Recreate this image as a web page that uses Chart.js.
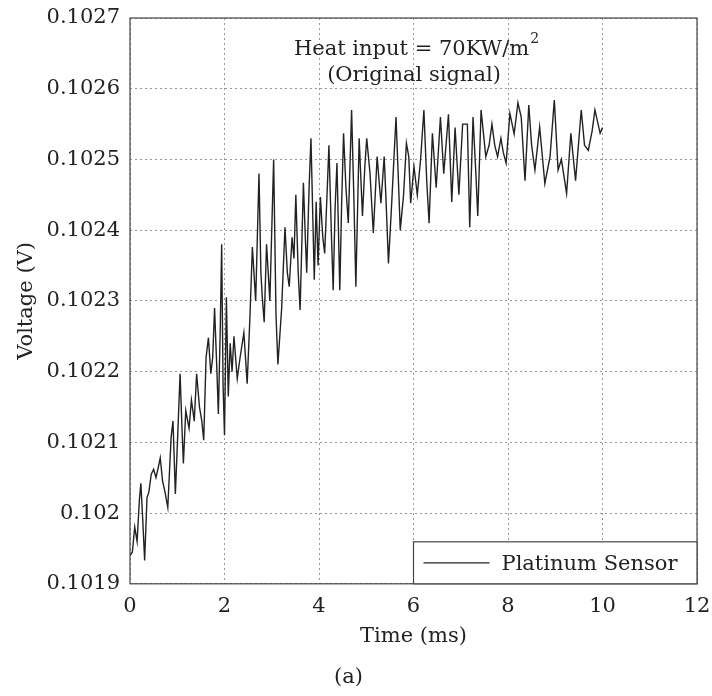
<!DOCTYPE html>
<html>
<head>
<meta charset="utf-8">
<script src="https://cdn.jsdelivr.net/npm/chart.js@4"></script>
<style>
  html, body { margin: 0; padding: 0; background: #fff; }
  #wrap { width: 712px; height: 696px; }
</style>
</head>
<body>
<div id="wrap"><canvas id="chart" width="712" height="696"></canvas></div>
<script>
// Time (ms) and sensor voltage (V)
const timeMs = [
  0.00, 0.05, 0.10, 0.15, 0.20, 0.23, 0.27, 0.31, 0.36, 0.40,
  0.45, 0.50, 0.55, 0.60, 0.64, 0.69, 0.74, 0.80, 0.87, 0.91,
  0.96, 1.01, 1.06, 1.10, 1.13, 1.18, 1.25, 1.30, 1.36, 1.41,
  1.47, 1.52, 1.56, 1.61, 1.66, 1.71, 1.75, 1.79, 1.84, 1.87,
  1.91, 1.94, 1.97, 2.00, 2.04, 2.08, 2.12, 2.16, 2.20, 2.27,
  2.33, 2.41, 2.48, 2.54, 2.59, 2.66, 2.73, 2.77, 2.80, 2.84,
  2.89, 2.96, 3.04, 3.09, 3.13, 3.21, 3.28, 3.33, 3.37, 3.43,
  3.47, 3.51, 3.56, 3.60, 3.67, 3.71, 3.74, 3.79, 3.83, 3.90,
  3.94, 3.98, 4.03, 4.08, 4.12, 4.17, 4.21, 4.26, 4.30, 4.34,
  4.38, 4.44, 4.48, 4.52, 4.57, 4.62, 4.69, 4.74, 4.78, 4.85,
  4.92, 4.97, 5.01, 5.08, 5.15, 5.23, 5.31, 5.38, 5.42, 5.47,
  5.54, 5.63, 5.72, 5.79, 5.85, 5.90, 5.94, 6.01, 6.08, 6.15,
  6.22, 6.28, 6.33, 6.40, 6.48, 6.57, 6.64, 6.74, 6.81, 6.88,
  6.96, 7.04, 7.14, 7.19, 7.26, 7.32, 7.36, 7.43, 7.53, 7.60,
  7.66, 7.72, 7.78, 7.85, 7.90, 7.96, 8.04, 8.13, 8.21, 8.28,
  8.36, 8.44, 8.50, 8.57, 8.67, 8.78, 8.89, 8.98, 9.06, 9.13,
  9.24, 9.33, 9.43, 9.55, 9.62, 9.70, 9.78, 9.84, 9.95, 10.00
];
const voltage = [
  0.101940, 0.101945, 0.101980, 0.101960, 0.102020, 0.102042, 0.101990, 0.101933, 0.102022, 0.102030,
  0.102055, 0.102062, 0.102050, 0.102065, 0.102078, 0.102045, 0.102030, 0.102008, 0.102107, 0.102130,
  0.102027, 0.102110, 0.102197, 0.102120, 0.102070, 0.102145, 0.102120, 0.102160, 0.102130, 0.102197,
  0.102150, 0.102130, 0.102103, 0.102220, 0.102248, 0.102197, 0.102220, 0.102290, 0.102200, 0.102140,
  0.102260, 0.102380, 0.102180, 0.102110, 0.102305, 0.102165, 0.102240, 0.102200, 0.102250, 0.102190,
  0.102220, 0.102255, 0.102183, 0.102280, 0.102376, 0.102300, 0.102480, 0.102340, 0.102305, 0.102270,
  0.102380, 0.102300, 0.102500, 0.102280, 0.102210, 0.102290, 0.102404, 0.102340, 0.102320, 0.102390,
  0.102360, 0.102450, 0.102340, 0.102287, 0.102467, 0.102390, 0.102340, 0.102460, 0.102530, 0.102330,
  0.102440, 0.102350, 0.102447, 0.102390, 0.102367, 0.102450, 0.102520, 0.102400, 0.102315, 0.102430,
  0.102495, 0.102315, 0.102440, 0.102537, 0.102460, 0.102410, 0.102570, 0.102440, 0.102320, 0.102530,
  0.102420, 0.102490, 0.102530, 0.102480, 0.102396, 0.102504, 0.102438, 0.102504, 0.102440, 0.102353,
  0.102440, 0.102560, 0.102400, 0.102450, 0.102523, 0.102504, 0.102438, 0.102490, 0.102450, 0.102500,
  0.102570, 0.102470, 0.102410, 0.102537, 0.102460, 0.102560, 0.102480, 0.102564, 0.102440, 0.102545,
  0.102450, 0.102550, 0.102550, 0.102404, 0.102560, 0.102480, 0.102420, 0.102570, 0.102504, 0.102520,
  0.102550, 0.102520, 0.102504, 0.102530, 0.102510, 0.102495, 0.102565, 0.102536, 0.102580, 0.102560,
  0.102470, 0.102577, 0.102520, 0.102485, 0.102546, 0.102466, 0.102504, 0.102584, 0.102485, 0.102500,
  0.102452, 0.102537, 0.102470, 0.102570, 0.102520, 0.102513, 0.102540, 0.102570, 0.102537, 0.102545
];
const xTicks = [0, 2, 4, 6, 8, 10, 12];
const yTicks = [0.1019, 0.1020, 0.1021, 0.1022, 0.1023, 0.1024, 0.1025, 0.1026, 0.1027];
const seriesLabel = 'Platinum Sensor';
const noteLines = ['Heat input = 70KW/m', '(Original signal)'];

const FONT = '"DejaVu Serif", "Liberation Serif", serif';
const INK = '#222';

// box round the plot, the in-plot note and the legend in the lower right
const decorations = {
  id: 'decorations',
  afterDatasetsDraw(chart) {
    const { ctx, chartArea: a, scales } = chart;
    ctx.save();
    ctx.strokeStyle = '#444';
    ctx.lineWidth = 1.2;
    ctx.strokeRect(a.left, a.top, a.right - a.left, a.bottom - a.top);

    // note
    ctx.fillStyle = INK;
    ctx.textBaseline = 'alphabetic';
    ctx.font = '21px ' + FONT;
    const cx = 416;
    const w1 = ctx.measureText(noteLines[0]).width;
    ctx.font = '14px ' + FONT;
    const w2 = ctx.measureText('2').width;
    const x1 = cx - (w1 + w2) / 2;
    ctx.font = '21px ' + FONT;
    ctx.textAlign = 'left';
    ctx.fillText(noteLines[0], x1, a.top + 37);
    ctx.font = '14px ' + FONT;
    ctx.fillText('2', x1 + w1 + 1, a.top + 25);
    ctx.font = '21px ' + FONT;
    ctx.textAlign = 'center';
    ctx.fillText(noteLines[1], cx - 2, a.top + 63);

    // legend
    const lx = scales.x.getPixelForValue(6);
    const ly = a.bottom - 42;
    ctx.fillStyle = '#fff';
    ctx.fillRect(lx, ly, a.right - lx, a.bottom - ly);
    ctx.strokeStyle = '#444';
    ctx.lineWidth = 1.2;
    ctx.strokeRect(lx, ly, a.right - lx, a.bottom - ly);
    ctx.strokeStyle = INK;
    ctx.lineWidth = 1.3;
    ctx.beginPath();
    ctx.moveTo(lx + 10, ly + 21);
    ctx.lineTo(lx + 76, ly + 21);
    ctx.stroke();
    ctx.fillStyle = INK;
    ctx.textAlign = 'left';
    ctx.font = '21px ' + FONT;
    ctx.fillText(chart.data.datasets[0].label, lx + 88, ly + 28);
    ctx.restore();
  }
};

const points = timeMs.map((t, i) => ({ x: t, y: voltage[i] }));

new Chart(document.getElementById('chart').getContext('2d'), {
  type: 'line',
  data: {
    datasets: [{
      label: seriesLabel,
      data: points,
      borderColor: INK,
      borderWidth: 1.4,
      pointRadius: 0,
      tension: 0,
      fill: false
    }]
  },
  options: {
    responsive: false,
    animation: false,
    layout: { padding: { top: 18, right: 15, left: 0, bottom: 0 } },
    plugins: {
      legend: { display: false },
      tooltip: { enabled: false },
      title: {
        display: true,
        position: 'bottom',
        text: '(a)',
        color: INK,
        font: { family: FONT, size: 21, weight: 'normal', lineHeight: 1.2 },
        padding: { top: 8, bottom: 6 }
      }
    },
    scales: {
      x: {
        type: 'linear',
        min: 0, max: 12,
        afterBuildTicks: s => { s.ticks = xTicks.map(v => ({ value: v })); },
        afterFit: s => { s.height = 73; s.paddingLeft = 0; s.paddingRight = 0; },
        grid: { color: '#999', lineWidth: 1, drawTicks: false },
        border: { display: false, dash: [2, 3] },
        ticks: { color: INK, padding: 10, font: { family: FONT, size: 21 } },
        title: { display: true, text: 'Time (ms)', color: INK,
                 font: { family: FONT, size: 21, lineHeight: 1.2 },
                 padding: { top: 0, bottom: 8 } }
      },
      y: {
        type: 'linear',
        min: 0.1019, max: 0.1027,
        afterBuildTicks: s => { s.ticks = yTicks.map(v => ({ value: v })); },
        afterFit: s => { s.width = 130; s.paddingTop = 0; s.paddingBottom = 0; },
        grid: { color: '#999', lineWidth: 1, drawTicks: false },
        border: { display: false, dash: [2, 3] },
        ticks: {
          color: INK, padding: 10, font: { family: FONT, size: 21 },
          callback: v => String(parseFloat(Number(v).toFixed(4)))
        },
        title: { display: true, text: 'Voltage (V)', color: INK,
                 font: { family: FONT, size: 21, lineHeight: 1.2 },
                 padding: { top: 14, bottom: 0 } }
      }
    }
  },
  plugins: [decorations]
});
</script>
</body>
</html>
